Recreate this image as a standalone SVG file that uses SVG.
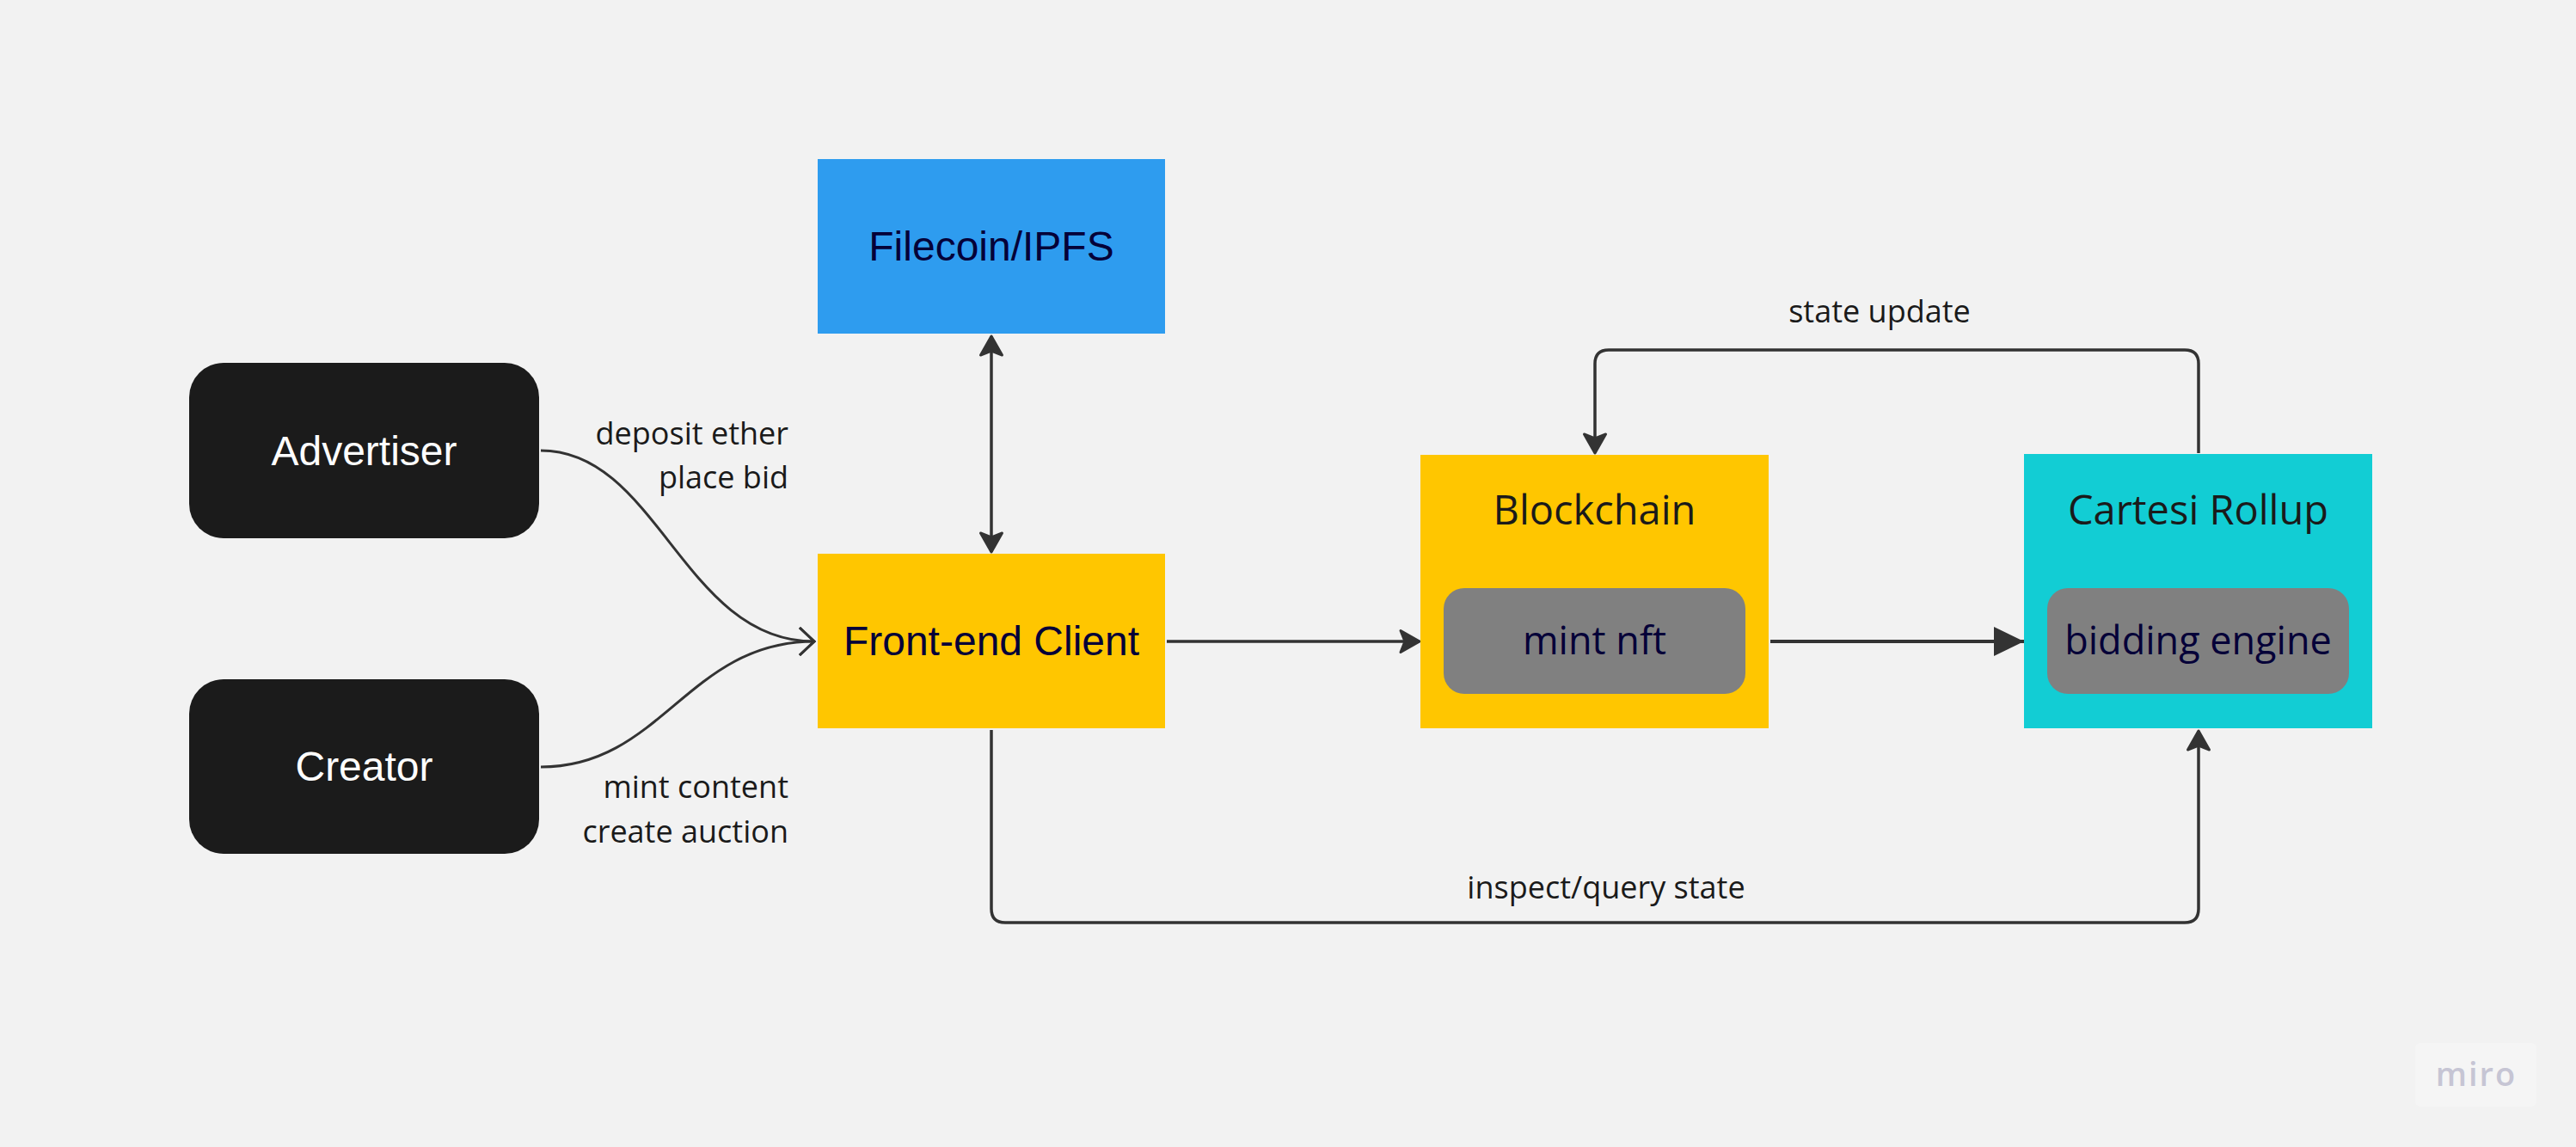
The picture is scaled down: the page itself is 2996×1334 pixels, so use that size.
<svg xmlns="http://www.w3.org/2000/svg" width="2996" height="1334" viewBox="0 0 2996 1334">
<style>
.bg{fill:#f2f2f2}
.actor{fill:#1b1b1b}
.actor-t{font-family:"Liberation Sans",Arial,sans-serif;font-size:48px;fill:#ffffff;text-anchor:middle}
.node-t{font-family:"Liberation Sans",Arial,sans-serif;font-size:48px;fill:#050038;text-anchor:middle}
.title-t{font-family:"Open Sans",sans-serif;font-size:47px;fill:#1a1a1a;text-anchor:middle}
.inner{fill:#808080}
.inner-t{font-family:"Open Sans",sans-serif;font-size:45px;fill:#050038;text-anchor:middle}
.lbl{font-family:"Open Sans",sans-serif;font-size:36px;fill:#1a1a1a}
.conn{fill:none;stroke:#333333;stroke-width:3.5;stroke-linejoin:round}
.curve{fill:none;stroke:#333333;stroke-width:3}
</style>
<defs>
<marker id="notch" viewBox="-28 -18 32 36" refX="0" refY="0" markerWidth="32" markerHeight="36" orient="auto-start-reverse" markerUnits="userSpaceOnUse">
<path d="M0,0 L-22,-12.5 L-17,0 L-22,12.5 Z" fill="#333333" stroke="#333333" stroke-width="3" stroke-linejoin="round"/>
</marker>
<marker id="solid" viewBox="-38 -20 40 40" refX="0" refY="0" markerWidth="40" markerHeight="40" orient="auto" markerUnits="userSpaceOnUse">
<path d="M0,0 L-35,-17 L-35,17 Z" fill="#333333"/>
</marker>
<marker id="open" viewBox="-22 -20 26 40" refX="0" refY="0" markerWidth="26" markerHeight="40" orient="auto" markerUnits="userSpaceOnUse">
<path d="M-17,-16 L0,0 L-17,16" fill="none" stroke="#333333" stroke-width="3" stroke-linejoin="miter"/>
</marker>
</defs>
<rect class="bg" x="0" y="0" width="2996" height="1334"/>

<g id="connectors">
<path id="c-adv" class="curve" d="M629,524 C765,524 795,746 947,746" marker-end="url(#open)"/>
<path id="c-cre" class="curve" d="M629,892 C770,892 800,746 947,746" marker-end="url(#open)"/>
<path id="c-ipfs" class="conn" d="M1153,391 L1153,642" marker-start="url(#notch)" marker-end="url(#notch)"/>
<path id="c-fe-bc" class="conn" d="M1357,746 L1651,746" marker-end="url(#notch)"/>
<path id="c-bc-cr" class="conn" style="stroke-width:4" d="M2059,746 L2354,746" marker-end="url(#solid)"/>
<path id="c-state" class="conn" d="M2557,527 L2557,423 Q2557,407 2541,407 L1871,407 Q1855,407 1855,423 L1855,527" marker-end="url(#notch)"/>
<path id="c-inspect" class="conn" d="M1153,849 L1153,1057 Q1153,1073 1169,1073 L2541,1073 Q2557,1073 2557,1057 L2557,850" marker-end="url(#notch)"/>
<text class="lbl" x="917" y="517" text-anchor="end">deposit ether</text>
<text class="lbl" x="917" y="568" text-anchor="end">place bid</text>
<text class="lbl" x="917" y="928" text-anchor="end">mint content</text>
<text class="lbl" x="917" y="980" text-anchor="end">create auction</text>
<text class="lbl" x="2186" y="375" text-anchor="middle">state update</text>
<text class="lbl" x="1868" y="1045" text-anchor="middle">inspect/query state</text>
</g>

<g id="advertiser">
<rect class="actor" x="220" y="422" width="407" height="204" rx="40"/>
<text class="actor-t" x="423.5" y="541">Advertiser</text>
</g>
<g id="creator">
<rect class="actor" x="220" y="790" width="407" height="203" rx="40"/>
<text class="actor-t" x="423.5" y="908">Creator</text>
</g>
<g id="filecoin">
<rect x="951" y="185" width="404" height="203" fill="#2e9cef"/>
<text class="node-t" x="1153" y="303">Filecoin/IPFS</text>
</g>
<g id="frontend">
<rect x="951" y="644" width="404" height="203" fill="#ffc600"/>
<text class="node-t" x="1153" y="762">Front-end Client</text>
</g>
<g id="blockchain">
<rect x="1652" y="529" width="405" height="318" fill="#ffc600"/>
<text class="title-t" x="1854.5" y="610">Blockchain</text>
<g id="mintnft">
<rect class="inner" x="1679" y="684" width="351" height="123" rx="24"/>
<text class="inner-t" x="1854.5" y="761">mint nft</text>
</g>
</g>
<g id="cartesi">
<rect x="2354" y="528" width="405" height="319" fill="#12cdd4"/>
<text class="title-t" x="2556.5" y="610">Cartesi Rollup</text>
<g id="bidding">
<rect class="inner" x="2381" y="684" width="351" height="123" rx="24"/>
<text class="inner-t" x="2556.5" y="761">bidding engine</text>
</g>
</g>

<g id="watermark">
<rect x="2809" y="1213" width="141" height="74" rx="6" fill="#f5f5f5"/>
<text x="2880" y="1263" text-anchor="middle" font-family="'Open Sans',sans-serif" font-size="38" font-weight="600" letter-spacing="2" fill="#c6c5d4">miro</text>
</g>
</svg>
